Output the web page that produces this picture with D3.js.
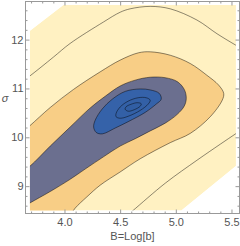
<!DOCTYPE html>
<html>
<meta charset="utf-8">
<style>
body { margin: 0; background: #fff; }
svg { display: block; }
.axis line { stroke: #999; }
.axis text { fill: #555; font: 11px "Liberation Sans", sans-serif; }
.cline { fill: none; stroke: #000; stroke-opacity: 0.45; stroke-width: 1; }
.label { fill: #555; font: 11px "Liberation Sans", sans-serif; }
</style>
<body>
<svg id="chart" width="240" height="246"></svg>
<script src="https://d3js.org/d3.v7.min.js"></script>
<script>
// tick labels
var xTicks = [4.0, 4.5, 5.0, 5.5];
var yTicks = [9, 10, 11, 12];

// sampled region of the plot, [B, sigma]
var domainEdge = [[3.69, 12.18], [3.99, 12.71], [5.54, 12.71], [5.54, 9.41], [5.05, 8.50], [3.69, 8.50]];

// contour lines, [B, sigma]
var level1Upper = [[3.60, 11.11], [3.686, 11.25], [3.90, 11.64], [4.05, 11.92], [4.35, 12.36], [4.50, 12.56],
  [4.59, 12.63], [4.77, 12.68], [4.95, 12.63], [5.19, 12.40], [5.37, 12.12], [5.543, 11.88], [5.62, 11.78]];
var level1Lower = [[4.50, 8.28], [4.61, 8.49], [4.905, 9.06], [5.19, 9.53], [5.40, 9.86], [5.543, 10.08], [5.67, 10.27]];
var level2 = [[3.557, 9.98], [3.686, 10.23], [3.872, 10.61], [4.081, 10.98], [4.321, 11.34], [4.50, 11.58],
  [4.665, 11.73], [4.77, 11.75], [4.95, 11.68], [5.13, 11.51], [5.279, 11.27], [5.384, 11.07], [5.43, 10.90],
  [5.417, 10.76], [5.309, 10.42], [5.13, 10.08], [4.95, 9.89], [4.68, 9.56], [4.50, 9.29], [4.321, 9.02],
  [4.201, 8.78], [4.096, 8.55], [4.051, 8.41], [3.961, 8.20]];
var level3 = [[3.557, 9.18], [3.686, 9.40], [3.872, 9.82], [4.051, 10.21], [4.231, 10.60], [4.366, 10.84],
  [4.50, 11.05], [4.635, 11.17], [4.77, 11.23], [4.905, 11.22], [5.013, 11.14], [5.076, 10.98], [5.094, 10.80],
  [5.076, 10.64], [5.013, 10.47], [4.905, 10.29], [4.77, 10.13], [4.635, 9.97], [4.50, 9.82], [4.35, 9.60],
  [4.186, 9.35], [4.051, 9.14], [3.872, 8.89], [3.686, 8.65], [3.557, 8.47]];
var level4 = [[4.262, 10.21], [4.285, 10.10], [4.339, 10.07], [4.456, 10.19], [4.572, 10.32], [4.725, 10.51],
  [4.824, 10.68], [4.869, 10.78], [4.851, 10.90], [4.77, 10.97], [4.68, 10.99], [4.546, 10.94], [4.429, 10.78],
  [4.339, 10.58], [4.276, 10.35]];
var level5 = [[4.464, 10.42], [4.50, 10.39], [4.572, 10.43], [4.68, 10.55], [4.752, 10.68], [4.77, 10.76],
  [4.734, 10.81], [4.662, 10.81], [4.572, 10.74], [4.50, 10.62], [4.464, 10.49]];
var level6 = [[4.545, 10.575], [4.572, 10.534], [4.626, 10.564], [4.68, 10.636], [4.689, 10.687], [4.653, 10.708],
  [4.599, 10.677], [4.554, 10.626]];

var width = 240, height = 246;
var frame = {left: 25.5, right: 239.5, top: 1.5, bottom: 213.5};

var x = d3.scaleLinear().domain([3.65, 5.572]).range([frame.left, frame.right]);
var y = d3.scaleLinear().domain([8.44, 12.78]).range([frame.bottom, frame.top]);

var svg = d3.select("#chart");

var openLine = d3.line().x(function(d) { return x(d[0]); }).y(function(d) { return y(d[1]); })
  .curve(d3.curveCatmullRom.alpha(0.5));
var closedLine = d3.line().x(function(d) { return x(d[0]); }).y(function(d) { return y(d[1]); })
  .curve(d3.curveCatmullRomClosed.alpha(0.5));
var polygon = d3.line().x(function(d) { return x(d[0]); }).y(function(d) { return y(d[1]); });

// open band closed through the bottom-left corner, outside the sampled region
function bandPath(pts) {
  var cx = x(x.domain()[0] - 0.2), cy = y(y.domain()[0] - 0.2);
  return openLine(pts) + "L" + cx + "," + cy + "Z";
}

svg.append("clipPath").attr("id", "dom")
  .append("path").attr("d", polygon(domainEdge) + "Z");

var plot = svg.append("g").attr("clip-path", "url(#dom)");

plot.append("path").attr("d", polygon(domainEdge) + "Z").attr("fill", "#fff1c2");
plot.append("path").attr("d", bandPath(level2)).attr("fill", "#f8ce86");
plot.append("path").attr("d", bandPath(level3)).attr("fill", "#6b6f8f");
plot.append("path").attr("d", closedLine(level4)).attr("fill", "#3562a9");
plot.append("path").attr("d", closedLine(level5)).attr("fill", "#3360a6");
plot.append("path").attr("d", closedLine(level6)).attr("fill", "#315ea3");

[level1Upper, level1Lower, level2, level3].forEach(function(l) {
  plot.append("path").attr("class", "cline").attr("d", openLine(l));
});
[level4, level5, level6].forEach(function(l) {
  plot.append("path").attr("class", "cline").attr("d", closedLine(l));
});

// frame with ticks on all sides
var xMinor = d3.range(3.7, 5.56, 0.1).filter(function(v) { return Math.abs(v * 2 - Math.round(v * 2)) > 0.01; });
var yMinor = d3.range(8.6, 12.7, 0.2).filter(function(v) { return Math.abs(v - Math.round(v)) > 0.01; });

function addAxis(gen, tx, ty, major, minor, fmt, pad) {
  var g = svg.append("g").attr("class", "axis").attr("transform", "translate(" + tx + "," + ty + ")");
  g.call(gen.tickValues(major).tickSize(-4).tickPadding(pad).tickFormat(fmt));
  g.select(".domain").remove();
  var m = svg.append("g").attr("class", "axis").attr("transform", "translate(" + tx + "," + ty + ")");
  m.call(gen.tickValues(minor).tickSize(-2).tickFormat(""));
  m.select(".domain").remove();
}

addAxis(d3.axisBottom(x), 0, frame.bottom, xTicks, xMinor, d3.format(".1f"), 5);
addAxis(d3.axisTop(x), 0, frame.top, xTicks, xMinor, function() { return ""; }, 2);
addAxis(d3.axisLeft(y), frame.left, 0, yTicks, yMinor, d3.format("d"), 2);
addAxis(d3.axisRight(y), frame.right, 0, yTicks, yMinor, function() { return ""; }, 2);

svg.append("rect")
  .attr("x", frame.left).attr("y", frame.top)
  .attr("width", frame.right - frame.left).attr("height", frame.bottom - frame.top)
  .attr("fill", "none").attr("stroke", "#999");

svg.append("text").attr("class", "label")
  .attr("x", (frame.left + frame.right) / 2).attr("y", 240)
  .attr("text-anchor", "middle").text("B=Log[b]");

svg.append("text").attr("class", "label")
  .attr("x", 5).attr("y", 102)
  .attr("text-anchor", "middle").style("font-style", "italic").text("σ");
</script>
</body>
</html>
